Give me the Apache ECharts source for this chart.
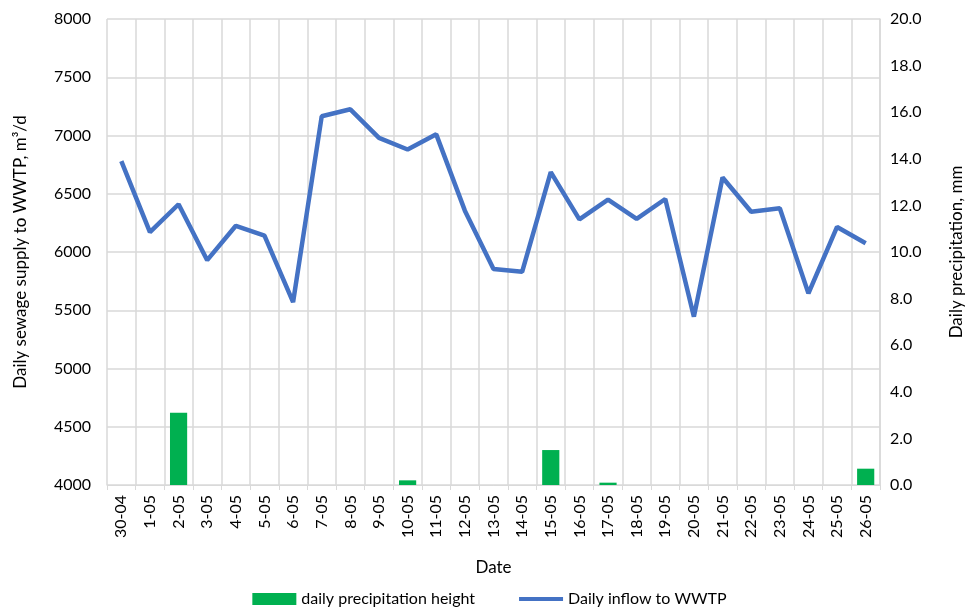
<!DOCTYPE html>
<html>
<head>
<meta charset="utf-8">
<script src="https://cdn.jsdelivr.net/npm/echarts@6/dist/echarts.min.js"></script>
<style>
  html, body { margin: 0; padding: 0; background: #fff; }
  #chart { width: 979px; height: 614px; }
</style>
</head>
<body>
<div id="chart"></div>
<script>
const dates = ['30-04', '1-05', '2-05', '3-05', '4-05', '5-05', '6-05', '7-05', '8-05', '9-05',
  '10-05', '11-05', '12-05', '13-05', '14-05', '15-05', '16-05', '17-05', '18-05', '19-05',
  '20-05', '21-05', '22-05', '23-05', '24-05', '25-05', '26-05']
const inflow = [6780, 6170, 6410, 5930, 6225, 6140, 5570, 7165, 7225, 6980,
  6880, 7010, 6355, 5855, 5830, 6685, 6280, 6450, 6285, 6455,
  5445, 6640, 6345, 6375, 5645, 6215, 6075]
const precip = [0, 0, 3.1, 0, 0, 0, 0, 0, 0, 0,
  0.2, 0, 0, 0, 0, 1.5, 0, 0.1, 0, 0,
  0, 0, 0, 0, 0, 0, 0.7]

const font = 'Lato, "Open Sans", sans-serif'
const gridColor = '#d9d9d9'

const chart = echarts.init(document.getElementById('chart'))
chart.setOption({
  animation: false,
  textStyle: { fontFamily: font, color: '#000' },
  grid: { left: 107, right: 99, top: 19, bottom: 129 },
  legend: {
    bottom: 2,
    left: 'center',
    itemGap: 44,
    itemWidth: 44,
    itemHeight: 12,
    textStyle: { fontSize: 16, fontFamily: font, color: '#000' },
    data: [
      { name: 'daily precipitation height', icon: 'rect' },
      { name: 'Daily inflow to WWTP', icon: 'path://M0,0 L44,0 L44,4 L0,4 Z' }
    ]
  },
  xAxis: {
    type: 'category',
    data: dates,
    name: 'Date',
    nameLocation: 'middle',
    nameGap: 74,
    nameTextStyle: { fontSize: 17, color: '#000' },
    axisLine: { lineStyle: { color: gridColor } },
    axisTick: { show: true, length: 5, lineStyle: { color: gridColor } },
    splitLine: { show: true, lineStyle: { color: gridColor, width: 1.5 } },
    axisLabel: { rotate: 90, fontSize: 16, color: '#000', interval: 0, margin: 10 }
  },
  yAxis: [
    {
      type: 'value',
      min: 4000, max: 8000, interval: 500,
      name: 'Daily sewage supply to WWTP, m³/d',
      nameLocation: 'middle',
      nameGap: 78,
      nameTextStyle: { fontSize: 17, color: '#000' },
      axisLine: { show: false },
      axisTick: { show: false },
      splitLine: { lineStyle: { color: gridColor, width: 1.5 } },
      axisLabel: { fontSize: 16, color: '#000', margin: 16, formatter: v => String(v) }
    },
    {
      type: 'value',
      min: 0, max: 20, interval: 2,
      name: 'Daily precipitation, mm',
      nameLocation: 'middle',
      nameGap: 68,
      nameRotate: 90,
      nameTextStyle: { fontSize: 17, color: '#000' },
      axisLine: { show: true, lineStyle: { color: gridColor, width: 1.5 } },
      axisTick: { show: false },
      splitLine: { show: false },
      axisLabel: { fontSize: 16, color: '#000', margin: 10, formatter: v => v.toFixed(1) }
    }
  ],
  series: [
    {
      name: 'daily precipitation height',
      type: 'bar',
      yAxisIndex: 1,
      data: precip,
      barCategoryGap: '40%',
      itemStyle: { color: '#00b050' }
    },
    {
      name: 'Daily inflow to WWTP',
      type: 'line',
      yAxisIndex: 0,
      data: inflow,
      symbol: 'none',
      lineStyle: { color: '#4472c4', width: 4.5 },
      itemStyle: { color: '#4472c4' }
    }
  ]
})
</script>
</body>
</html>
